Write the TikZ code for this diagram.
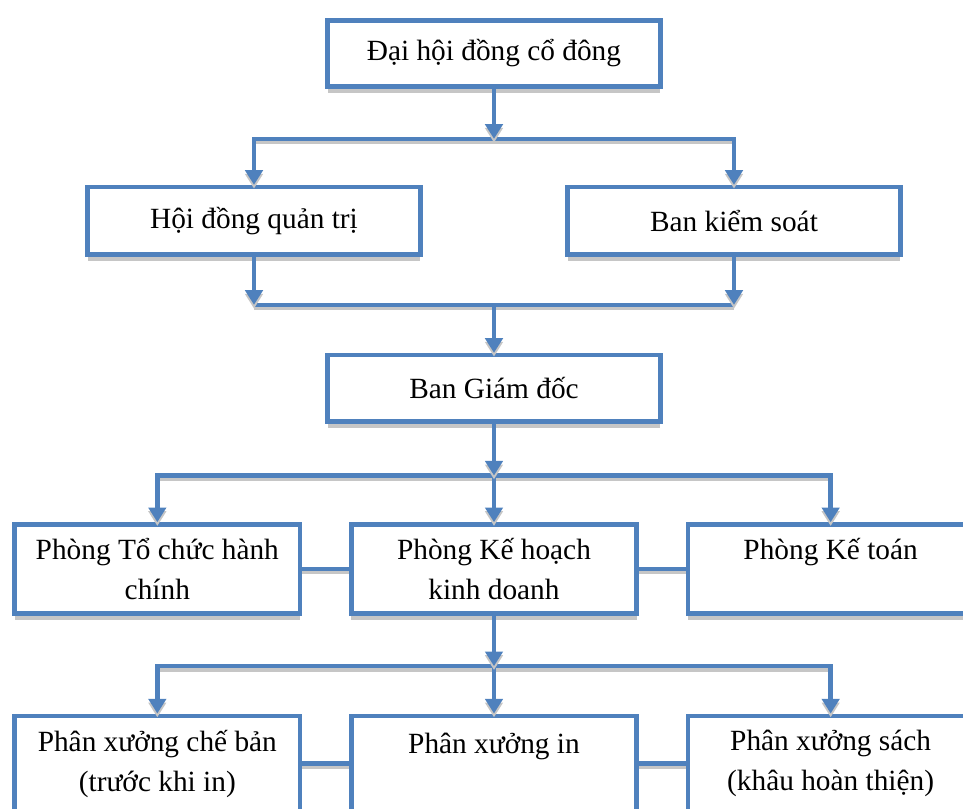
\documentclass[tikz,border=0pt]{standalone}
\usepackage{fontspec}
\setmainfont{Liberation Serif}
\usetikzlibrary{positioning, arrows.meta, shadows}
\definecolor{boxblue}{RGB}{79,129,189}

\begin{document}
\begin{tikzpicture}[
  unit/.style={rectangle, draw=boxblue, line width=3.4pt, fill=white, align=center, font=\fontsize{22}{30}\selectfont, drop shadow={shadow xshift=0pt, shadow yshift=-4.7pt, fill=gray!45, opacity=1}},
  board/.style={unit, minimum width=249.6pt, minimum height=50.6pt},
  dept/.style={unit, minimum width=214.1pt, minimum height=66.6pt},
  shop/.style={unit, minimum width=214.1pt, minimum height=71.6pt},
  link/.style={draw=boxblue, line width=3.4pt, preaction={draw=gray!45, line width=2.5pt, transform canvas={yshift=-2.8pt}}},
  arrow/.style={link, -{Triangle[width=13pt, length=11pt]}}
]
\useasboundingbox (-370.5pt,40.125pt) rectangle (351.75pt,-565.875pt);

% Boxes placed relatively
\node[board, minimum height=49.6pt] (DH) {Đại hội đồng cổ đông};
\node[board, below=72pt of DH, xshift=-180pt] (HQ) {Hội đồng quản trị};
\node[board, below=72pt of DH, xshift=180pt] (BK) {Ban kiểm soát};
\node[board, minimum height=49.6pt, below=198pt of DH] (GD) {Ban Giám đốc};

\node[dept, below=74pt of GD] (KD) {Phòng Kế hoạch\\kinh doanh};
\node[dept, left=35pt of KD] (TC) {Phòng Tổ chức hành\\chính};
\node[dept, right=35pt of KD] (KT) {Phòng Kế toán\\\mbox{}};

\node[shop, below=73.5pt of KD] (XI) {Phân xưởng in\\\mbox{}};
\node[shop, left=35pt of XI] (XC) {Phân xưởng chế bản\\(trước khi in)};
\node[shop, right=35pt of XI] (XS) {Phân xưởng sách\\(khâu hoàn thiện)};

% Junctions on the buses
\coordinate[below=37.5pt of DH] (J1);
\coordinate[above=36pt of GD] (J2);
\coordinate[below=39pt of GD] (J3);
\coordinate[below=38pt of KD] (J4);

% Draw connectors
\draw[arrow] (J1) -| (HQ);
\draw[arrow] (J1) -| (BK);
\draw[arrow] (DH) -- (J1);

\draw[link] (HQ |- J2) -- (BK |- J2);
\draw[arrow] (HQ) -- (HQ |- J2);
\draw[arrow] (BK) -- (BK |- J2);
\draw[arrow] (J2) -- (GD);

\draw[arrow] (J3) -| (TC);
\draw[arrow] (J3) -| (KT);
\draw[arrow] (J3) -- (KD);
\draw[arrow] (GD) -- (J3);
\draw[link] (TC) -- (KD);
\draw[link] (KD) -- (KT);

\draw[arrow] (J4) -| (XC);
\draw[arrow] (J4) -| (XS);
\draw[arrow] (J4) -- (XI);
\draw[arrow] (KD) -- (J4);
\draw[link] (XC) -- (XI);
\draw[link] (XI) -- (XS);

\end{tikzpicture}
\end{document}
